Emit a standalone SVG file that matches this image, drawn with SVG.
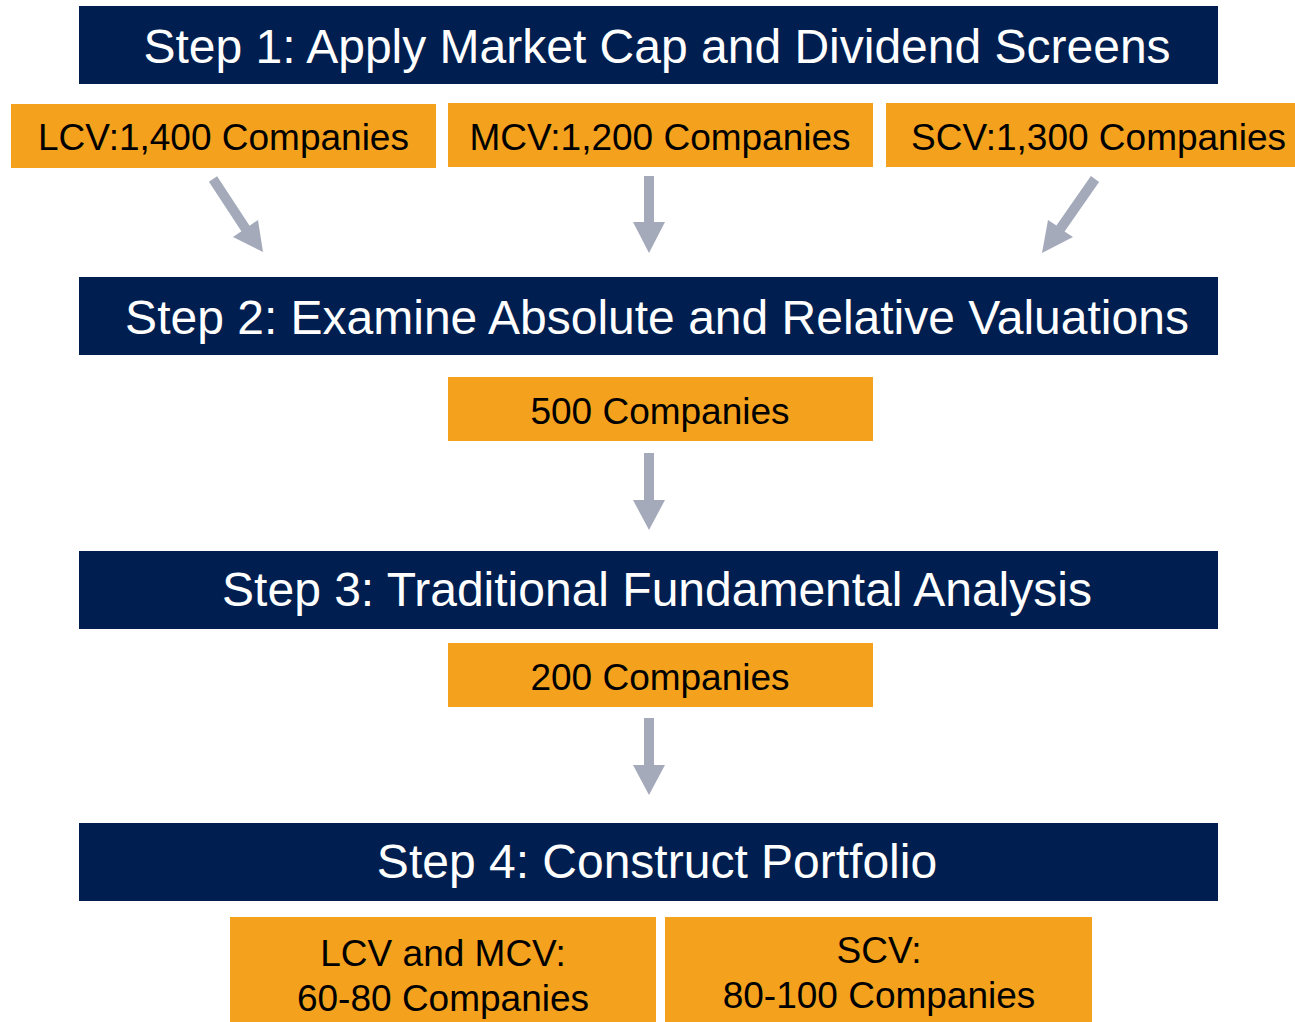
<svg xmlns="http://www.w3.org/2000/svg" width="1295" height="1022" viewBox="0 0 1295 1022">
<style>
.step{fill:#001F50}
.box{fill:#F4A11D}
.st{font-family:"Liberation Sans",Arial,sans-serif;font-size:48px;fill:#FFFFFF;text-anchor:middle}
.bt{font-family:"Liberation Sans",Arial,sans-serif;font-size:37px;fill:#000000;text-anchor:middle}
.arr{fill:#A5AABB}
</style>
<rect width="1295" height="1022" fill="#FFFFFF"/>
<g id="step1"><rect class="step" x="79" y="6" width="1139" height="78"/><text class="st" x="657" y="63">Step 1: Apply Market Cap and Dividend Screens</text></g>
<g id="lcv"><rect class="box" x="11" y="104" width="425" height="64"/><text class="bt" x="223.5" y="150">LCV:1,400 Companies</text></g>
<g id="mcv"><rect class="box" x="448" y="103" width="425" height="64"/><text class="bt" x="660" y="150">MCV:1,200 Companies</text></g>
<g id="scv"><rect class="box" x="886" y="103" width="425" height="64"/><text class="bt" x="1098.5" y="150">SCV:1,300 Companies</text></g>
<g id="step2"><rect class="step" x="79" y="277" width="1139" height="78"/><text class="st" x="657" y="334">Step 2: Examine Absolute and Relative Valuations</text></g>
<g id="c500"><rect class="box" x="448" y="377" width="425" height="64"/><text class="bt" x="660" y="424">500 Companies</text></g>
<g id="step3"><rect class="step" x="79" y="551" width="1139" height="78"/><text class="st" x="657" y="606">Step 3: Traditional Fundamental Analysis</text></g>
<g id="c200"><rect class="box" x="448" y="643" width="425" height="64"/><text class="bt" x="660" y="690">200 Companies</text></g>
<g id="step4"><rect class="step" x="79" y="823" width="1139" height="78"/><text class="st" x="657" y="878">Step 4: Construct Portfolio</text></g>
<g id="port1"><rect class="box" x="230" y="917" width="426" height="110"/><text class="bt" x="443" y="966">LCV and MCV:</text><text class="bt" x="443" y="1011">60-80 Companies</text></g>
<g id="port2"><rect class="box" x="665" y="917" width="427" height="110"/><text class="bt" x="879" y="963">SCV:</text><text class="bt" x="879" y="1008">80-100 Companies</text></g>
<g id="connectors">
<polygon class="arr" points="208.9,181.8 217.1,176.2 249.6,225.7 258,220 263,252 233,237 241.4,231.3"/>
<polygon class="arr" points="644,176 654,176 654,222 665,222 649,253 633,222 644,222"/>
<polygon class="arr" points="1090.9,176.1 1099.1,181.9 1064.6,231.4 1073,237 1042,253 1048,220 1056.4,225.6"/>
<polygon class="arr" points="644,453 654,453 654,500 665,500 649,530 633,500 644,500"/>
<polygon class="arr" points="644,718 654,718 654,765 665,765 649,795 633,765 644,765"/>
</g>
</svg>
